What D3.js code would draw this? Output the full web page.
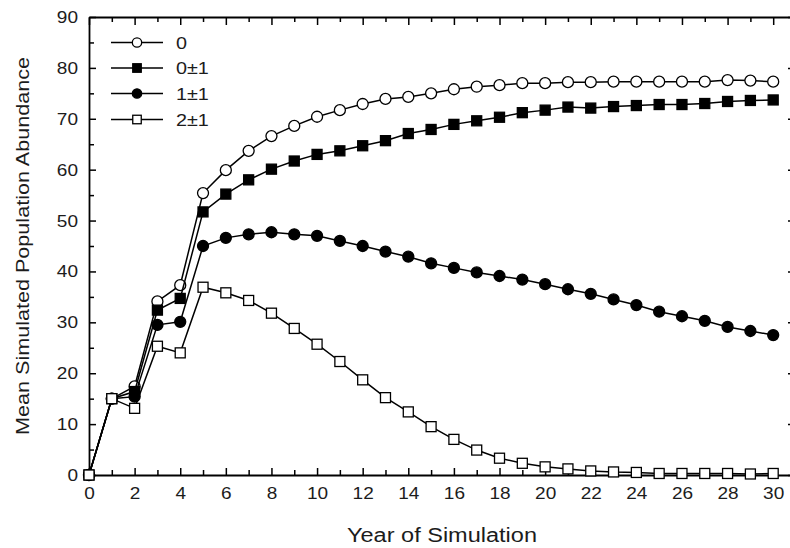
<!DOCTYPE html>
<html><head><meta charset="utf-8">
<script src="https://cdn.jsdelivr.net/npm/d3@7/dist/d3.min.js"></script>
<style>html,body{margin:0;padding:0;background:#fff;}svg{display:block;}</style>
</head><body>
<svg id="chart" width="790" height="548"></svg>
<script>
const years = [0,1,2,3,4,5,6,7,8,9,10,11,12,13,14,15,16,17,18,19,20,21,22,23,24,25,26,27,28,29,30];
const seriesNames = ["0", "0\u00b11", "1\u00b11", "2\u00b11"];
const s0   = [0,15,17.4,34.1,37.3,55.4,59.9,63.7,66.6,68.6,70.4,71.7,72.9,73.9,74.3,75,75.8,76.3,76.6,77,77,77.2,77.2,77.3,77.3,77.3,77.3,77.3,77.6,77.5,77.3];
const s0p1 = [0,15,16.4,32.4,34.7,51.7,55.2,58,60.1,61.7,63,63.7,64.7,65.7,67.1,67.9,68.9,69.6,70.3,71.2,71.7,72.3,72.1,72.4,72.6,72.8,72.8,73,73.4,73.6,73.7];
const s1p1 = [0,15,15.4,29.5,30.1,45,46.6,47.3,47.7,47.3,47,46,45,43.9,42.9,41.6,40.7,39.8,39.1,38.4,37.5,36.5,35.6,34.5,33.4,32.1,31.2,30.3,29.1,28.3,27.5];
const s2p1 = [0,15,13.1,25.3,24,36.9,35.8,34.3,31.8,28.8,25.7,22.3,18.7,15.2,12.4,9.5,7,4.9,3.3,2.3,1.6,1.2,0.8,0.6,0.5,0.3,0.3,0.3,0.3,0.2,0.3];
const xTicks = [0,2,4,6,8,10,12,14,16,18,20,22,24,26,28,30];
const xMinorTicks = [1,3,5,7,9,11,13,15,17,19,21,23,25,27,29];
const yTicks = [0,10,20,30,40,50,60,70,80,90];
const yMinorTicks = [5,15,25,35,45,55,65,75,85];
const xTitle = "Year of Simulation";
const yTitle = "Mean Simulated Population Abundance";

const series = [
  {name: seriesNames[0], values: s0,   shape: "circle", fill: "#fff"},
  {name: seriesNames[1], values: s0p1, shape: "square", fill: "#000"},
  {name: seriesNames[2], values: s1p1, shape: "circle", fill: "#000"},
  {name: seriesNames[3], values: s2p1, shape: "square", fill: "#fff"}
];

const svg = d3.select("#chart");
const L = 89, R = 796, T = 17, B = 475;
const x = d3.scaleLinear().domain([0, 31]).range([L, R]);
const y = d3.scaleLinear().domain([0, 90]).range([B, T]);
const SX = 1.12; // horizontal stretch of tick text
const textColor = "#1c1c1c";
const FONT = "Liberation Sans, Arial, sans-serif";

function styleAxis(g) {
  g.selectAll("path.domain").attr("stroke", "#000").attr("stroke-width", 1.8);
  g.selectAll(".tick line").attr("stroke", "#000").attr("stroke-width", 1.5);
}
function minor(g) { g.select("path.domain").remove(); }

// bottom axis
const gb = svg.append("g").attr("transform", `translate(0,${B})`)
  .call(d3.axisBottom(x).tickValues(xTicks).tickSize(-7).tickSizeOuter(0).tickPadding(12).tickFormat(d3.format("d")));
styleAxis(gb);
gb.selectAll("text").attr("font-family", FONT).attr("font-size", 17)
  .attr("fill", textColor).attr("transform", `scale(${SX},1)`);
const gbm = svg.append("g").attr("transform", `translate(0,${B})`)
  .call(d3.axisBottom(x).tickValues(xMinorTicks).tickSize(-5).tickFormat(""));
minor(gbm); styleAxis(gbm);

// top axis
const gt = svg.append("g").attr("transform", `translate(0,${T})`)
  .call(d3.axisTop(x).tickValues(xTicks).tickSize(-8).tickSizeOuter(0).tickFormat(""));
styleAxis(gt);
const gtm = svg.append("g").attr("transform", `translate(0,${T})`)
  .call(d3.axisTop(x).tickValues(xMinorTicks).tickSize(-5).tickFormat(""));
minor(gtm); styleAxis(gtm);

// left axis
const gl = svg.append("g").attr("transform", `translate(${L},0)`)
  .call(d3.axisLeft(y).tickValues(yTicks).tickSize(-7).tickSizeOuter(0).tickPadding(11).tickFormat(d3.format("d")));
styleAxis(gl);
gl.selectAll("text").attr("font-family", FONT).attr("font-size", 17)
  .attr("fill", textColor).attr("x", -11 / SX).attr("transform", `scale(${SX},1)`);
const glm = svg.append("g").attr("transform", `translate(${L},0)`)
  .call(d3.axisLeft(y).tickValues(yMinorTicks).tickSize(-5).tickFormat(""));
minor(glm); styleAxis(glm);

// right axis
const gr = svg.append("g").attr("transform", `translate(${R},0)`)
  .call(d3.axisRight(y).tickValues(yTicks).tickSize(-8).tickSizeOuter(0).tickFormat(""));
styleAxis(gr);
const grm = svg.append("g").attr("transform", `translate(${R},0)`)
  .call(d3.axisRight(y).tickValues(yMinorTicks).tickSize(-5).tickFormat(""));
minor(grm); styleAxis(grm);

// axis titles
svg.append("text")
  .attr("x", 442).attr("y", 542).attr("text-anchor", "middle")
  .attr("font-family", FONT).attr("font-size", 19.5)
  .attr("fill", textColor)
  .attr("textLength", 190).attr("lengthAdjust", "spacingAndGlyphs")
  .text(xTitle);
svg.append("text")
  .attr("transform", `translate(29,${(T + B) / 2}) rotate(-90)`)
  .attr("text-anchor", "middle")
  .attr("font-family", FONT).attr("font-size", 18.5)
  .attr("fill", textColor)
  .attr("textLength", 378).attr("lengthAdjust", "spacingAndGlyphs")
  .text(yTitle);

// lines & markers
const line = d3.line().x((d, i) => x(years[i])).y(d => y(d));
function drawMarker(g, shape, fill, cx, cy, k) {
  if (shape === "circle") {
    g.append("circle").attr("cx", cx).attr("cy", cy).attr("r", 5.5 * k)
      .attr("fill", fill).attr("stroke", "#000").attr("stroke-width", 1.3);
  } else {
    const h = 5 * k;
    g.append("rect").attr("x", cx - h).attr("y", cy - h).attr("width", 2 * h).attr("height", 2 * h)
      .attr("fill", fill).attr("stroke", "#000").attr("stroke-width", 1.3);
  }
}
series.forEach(s => {
  const g = svg.append("g");
  g.append("path").attr("d", line(s.values)).attr("fill", "none")
    .attr("stroke", "#000").attr("stroke-width", 1.5);
  s.values.forEach((v, i) => drawMarker(g, s.shape, s.fill, x(years[i]), y(v), 1));
});

// legend
const legendRows = [42.5, 68, 93.5, 119.5];
series.forEach((s, i) => {
  const g = svg.append("g");
  const ry = legendRows[i];
  g.append("line").attr("x1", 111).attr("x2", 163).attr("y1", ry).attr("y2", ry)
    .attr("stroke", "#000").attr("stroke-width", 1.5);
  drawMarker(g, s.shape, s.fill, 137, ry, 0.85);
  g.append("text").attr("transform", `translate(176,${ry + 6}) scale(1.2,1)`)
    .attr("font-family", FONT).attr("font-size", 16.5)
    .attr("fill", textColor).text(s.name);
});
</script>
</body></html>
